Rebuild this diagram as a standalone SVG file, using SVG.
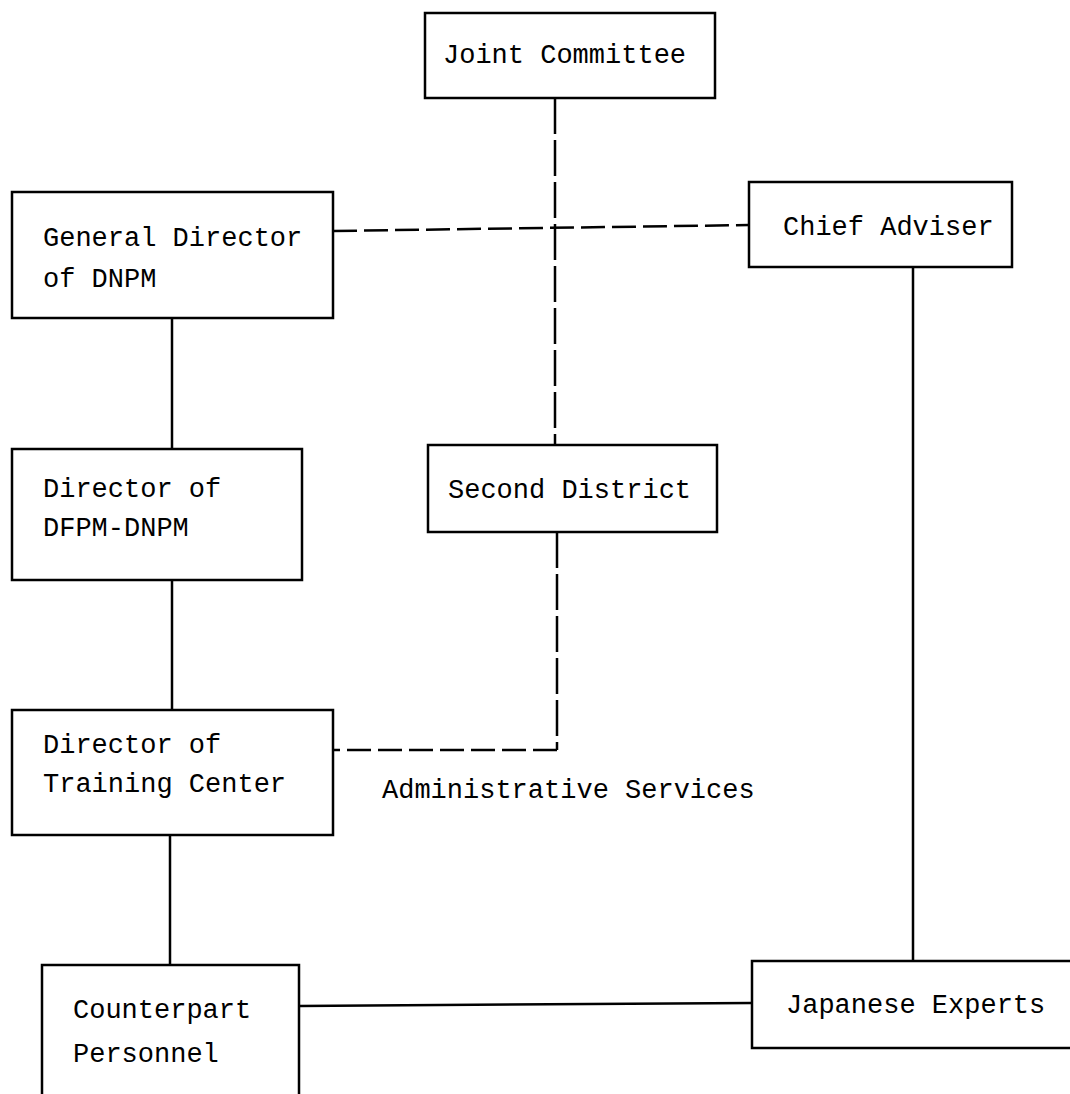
<svg xmlns="http://www.w3.org/2000/svg" width="1070" height="1094" viewBox="0 0 1070 1094">
<style>
.box{fill:#fff;stroke:#000;stroke-width:2.5}
.t{font-family:"Liberation Mono","DejaVu Sans Mono",monospace;font-size:27px;fill:#000}
.solid{fill:none;stroke:#000;stroke-width:2.5}
.dh{fill:none;stroke:#000;stroke-width:2.5;stroke-dasharray:24 7}
.dv{fill:none;stroke:#000;stroke-width:2.5;stroke-dasharray:36 6}
</style>
<rect width="1070" height="1094" fill="#fff"/>
<g id="connectors">
<path class="dv" d="M555 98 V445"/>
<path class="dh" d="M333 231 L749 225"/>
<path class="solid" d="M172 318 V449"/>
<path class="solid" d="M172 580 V710"/>
<path class="solid" d="M170 835 V965"/>
<path class="dv" d="M557 532 V750"/>
<path class="dh" d="M557 750 H333"/>
<path class="solid" d="M913 267 V961"/>
<path class="solid" d="M299 1006 L752 1003"/>
</g>
<g id="joint-committee">
<rect class="box" x="425" y="13" width="290" height="85"/>
<text class="t" x="443" y="63">Joint Committee</text>
</g>
<g id="general-director">
<rect class="box" x="12" y="192" width="321" height="126"/>
<text class="t" x="43" y="246">General Director</text>
<text class="t" x="43" y="287">of DNPM</text>
</g>
<g id="chief-adviser">
<rect class="box" x="749" y="182" width="263" height="85"/>
<text class="t" x="783" y="235">Chief Adviser</text>
</g>
<g id="director-dfpm">
<rect class="box" x="12" y="449" width="290" height="131"/>
<text class="t" x="43" y="497">Director of</text>
<text class="t" x="43" y="536">DFPM-DNPM</text>
</g>
<g id="second-district">
<rect class="box" x="428" y="445" width="289" height="87"/>
<text class="t" x="448" y="498">Second District</text>
</g>
<g id="director-training">
<rect class="box" x="12" y="710" width="321" height="125"/>
<text class="t" x="43" y="753">Director of</text>
<text class="t" x="43" y="792">Training Center</text>
</g>
<g id="administrative-services">
<text class="t" x="382" y="798">Administrative Services</text>
</g>
<g id="counterpart-personnel">
<rect class="box" x="42" y="965" width="257" height="140"/>
<text class="t" x="73" y="1018">Counterpart</text>
<text class="t" x="73" y="1062">Personnel</text>
</g>
<g id="japanese-experts">
<rect class="box" x="752" y="961" width="330" height="87"/>
<text class="t" x="786" y="1013">Japanese Experts</text>
</g>
</svg>
